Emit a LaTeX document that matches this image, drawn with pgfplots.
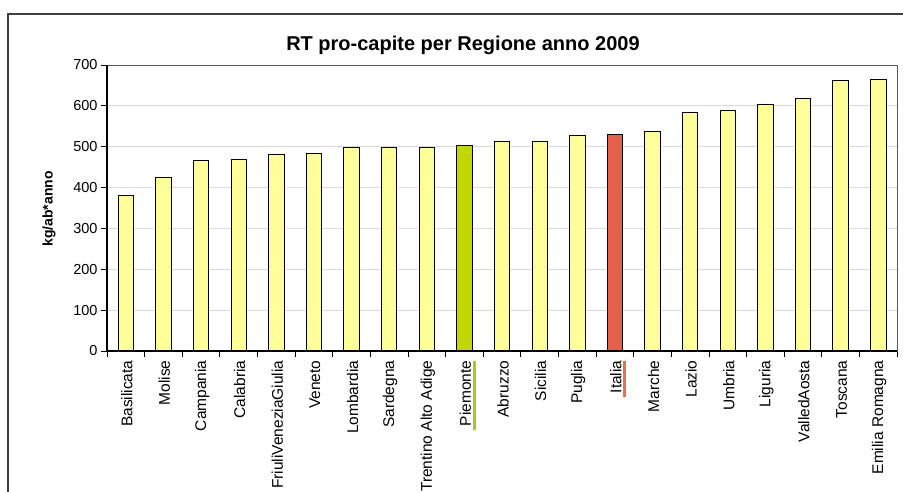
\documentclass[border=0pt]{standalone}
\usepackage{fontspec}
\setmainfont{Liberation Sans}
\usepackage{pgfplots}
\pgfplotsset{compat=1.18}

\definecolor{barY}{RGB}{255,255,153}
\definecolor{barG}{RGB}{194,214,0}
\definecolor{barR}{RGB}{229,96,74}
\definecolor{lineG}{RGB}{160,206,20}
\definecolor{lineR}{RGB}{238,108,80}
\definecolor{gridC}{RGB}{217,217,217}

% coloured stripe beside a rotated tick label
\newcommand{\hl}[2]{\setbox0\hbox{#2}\llap{\raisebox{-5pt}[0pt][0pt]{\color{#1}\rule{\dimexpr\wd0+4pt\relax}{3pt}}\hspace{-\wd0}}\box0}

\begin{document}
\begin{tikzpicture}[x=1pt,y=1pt]
\useasboundingbox (0,0) rectangle (903,491);
\draw[line width=1.5pt, black!75] (8,-20) -- (8,477) -- (940,477);
\node[font=\bfseries\fontsize{20}{24}\selectfont] at (463,446) {RT pro-capite per Regione anno 2009};
\node[font=\bfseries\fontsize{14}{16}\selectfont, rotate=90] at (49,282) {kg/ab*anno};
\begin{axis}[
    at={(107pt,140pt)}, anchor=south west,
    scale only axis, width=790pt, height=286pt,
    ymin=0, ymax=700, ytick={0,100,...,700},
    xmin=-0.5, xmax=20.5,
    xtick={0,...,20},
    xticklabels={Basilicata, Molise, Campania, Calabria, FriuliVeneziaGiulia, Veneto, Lombardia, Sardegna, Trentino Alto Adige, \hl{lineG}{Piemonte}, Abruzzo, Sicilia, Puglia, \hl{lineR}{Italia}, Marche, Lazio, Umbria, Liguria, ValledAosta, Toscana, Emilia Romagna},
    minor xtick={-0.5,0.5,...,20.5},
    x tick label style={rotate=90, anchor=east, font=\fontsize{15.5}{17}\selectfont, yshift=-1pt},
    y tick label style={font=\fontsize{14.5}{17}\selectfont},
    /pgf/number format/assume math mode=true,
    major x tick style={draw=none},
    minor x tick style={black, thick},
    y tick style={black, thick},
    tick align=outside, major tick length=6pt, minor tick length=6pt,
    xtick pos=bottom, ytick pos=left,
    ymajorgrids, grid style={gridC, line width=0.8pt},
    axis line style={black!65, line width=1pt},
    ybar, bar width=0.41, bar shift=0pt,
    clip=false,
]
\addplot[fill=barY, draw=black, line width=0.8pt] coordinates {
    (0,381) (1,426) (2,466) (3,470) (4,480) (5,484) (6,498) (7,498) (8,498)
    (10,514) (11,514) (12,528) (14,537) (15,584) (16,588) (17,604)
    (18,619) (19,662) (20,664)
};
\addplot[fill=barG, draw=black, line width=0.8pt] coordinates {(9,504)};
\addplot[fill=barR, draw=black, line width=0.8pt] coordinates {(13,530)};
\draw[black, line width=1.2pt] (rel axis cs:0,1) -- (rel axis cs:0,0) -- (rel axis cs:1,0);
\end{axis}
\end{tikzpicture}
\end{document}
